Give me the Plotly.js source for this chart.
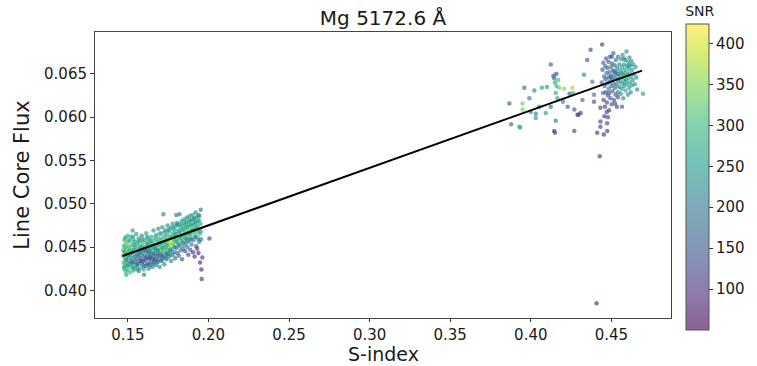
<!DOCTYPE html>
<html>
<head>
<meta charset="utf-8">
<script src="https://cdn.plot.ly/plotly-3.0.1.min.js"></script>
<style>html,body{margin:0;padding:0;background:#fff;}#chart{width:757px;height:366px;}</style>
</head>
<body>
<div id="chart"></div>
<script>
// Left cluster (low activity): S-index, line core flux, SNR
const leftS = [0.1470,0.1472,0.1474,0.1475,0.1477,0.1478,0.1480,0.1481,0.1483,0.1484,0.1486,0.1488,0.1489,0.1491,0.1493,0.1494,0.1496,0.1498,0.1499,0.1500,
0.1503,0.1505,0.1507,0.1509,0.1511,0.1513,0.1515,0.1517,0.1519,0.1521,0.1523,0.1525,0.1527,0.1529,0.1531,0.1533,0.1535,0.1537,0.1539,0.1541,0.1543,0.1545,0.1547,0.1549,
0.1552,0.1554,0.1556,0.1558,0.1560,0.1562,0.1564,0.1566,0.1568,0.1570,0.1572,0.1574,0.1576,0.1578,0.1580,0.1582,0.1584,0.1586,0.1588,0.1590,0.1592,0.1594,0.1596,0.1598,
0.1600,0.1602,0.1604,0.1606,0.1608,0.1610,0.1612,0.1614,0.1616,0.1618,0.1620,0.1622,0.1624,0.1626,0.1628,0.1630,0.1632,0.1634,0.1636,0.1638,0.1640,0.1642,0.1644,0.1646,0.1648,
0.1651,0.1653,0.1655,0.1657,0.1659,0.1661,0.1663,0.1665,0.1667,0.1669,0.1671,0.1673,0.1675,0.1677,0.1679,0.1681,0.1683,0.1685,0.1687,0.1689,0.1691,0.1693,0.1695,0.1697,
0.1700,0.1702,0.1704,0.1706,0.1708,0.1710,0.1712,0.1714,0.1716,0.1718,0.1720,0.1722,0.1724,0.1726,0.1728,0.1730,0.1732,0.1734,0.1736,0.1738,0.1740,0.1742,0.1744,0.1746,0.1748,
0.1751,0.1753,0.1755,0.1757,0.1759,0.1761,0.1763,0.1765,0.1767,0.1769,0.1771,0.1773,0.1775,0.1777,0.1779,0.1781,0.1783,0.1785,0.1787,0.1789,0.1791,0.1793,0.1795,0.1797,
0.1800,0.1802,0.1804,0.1806,0.1808,0.1810,0.1812,0.1814,0.1816,0.1818,0.1820,0.1822,0.1824,0.1826,0.1828,0.1830,0.1832,0.1834,0.1836,0.1838,0.1840,0.1842,0.1844,0.1846,0.1848,
0.1851,0.1853,0.1855,0.1857,0.1859,0.1861,0.1863,0.1865,0.1867,0.1869,0.1871,0.1873,0.1875,0.1877,0.1879,0.1881,0.1883,0.1885,0.1887,0.1889,0.1891,0.1893,0.1895,0.1897,
0.1900,0.1902,0.1904,0.1906,0.1908,0.1910,0.1912,0.1914,0.1916,0.1918,0.1920,0.1922,0.1924,0.1926,0.1928,0.1930,0.1932,0.1934,0.1936,0.1938,0.1940,0.1942,0.1944,0.1946,0.1948,0.1950,0.1952,0.1954,0.1956,0.1958,0.1962,0.2006,
0.1530,0.1800,0.1490];
const leftFlux = [0.0440,0.0446,0.0432,0.0452,0.0425,0.0458,0.0437,0.0444,0.0429,0.0461,0.0449,0.0422,0.0435,0.0455,0.0442,0.0428,0.0447,0.0433,0.0463,0.0424,
0.0451,0.0438,0.0445,0.0430,0.0457,0.0421,0.0441,0.0449,0.0434,0.0462,0.0427,0.0444,0.0453,0.0437,0.0431,0.0459,0.0423,0.0447,0.0440,0.0456,0.0433,0.0426,0.0450,0.0443,
0.0465,0.0436,0.0428,0.0454,0.0441,0.0446,0.0431,0.0460,0.0422,0.0439,0.0451,0.0434,0.0457,0.0426,0.0444,0.0449,0.0437,0.0463,0.0430,0.0442,0.0455,0.0433,0.0447,0.0424,
0.0418,0.0440,0.0458,0.0435,0.0450,0.0428,0.0445,0.0466,0.0438,0.0453,0.0431,0.0447,0.0442,0.0460,0.0425,0.0436,0.0452,0.0444,0.0429,0.0457,0.0439,0.0448,0.0433,0.0462,0.0443,
0.0427,0.0454,0.0437,0.0446,0.0469,0.0432,0.0450,0.0441,0.0458,0.0435,0.0445,0.0429,0.0464,0.0452,0.0439,0.0447,0.0433,0.0456,0.0443,0.0471,0.0449,0.0436,0.0460,0.0427,
0.0454,0.0441,0.0466,0.0447,0.0434,0.0458,0.0443,0.0473,0.0451,0.0438,0.0488,0.0462,0.0445,0.0430,0.0456,0.0449,0.0469,0.0440,0.0459,0.0452,0.0436,0.0464,0.0447,0.0475,0.0442,
0.0457,0.0450,0.0468,0.0439,0.0461,0.0453,0.0445,0.0472,0.0458,0.0434,0.0463,0.0455,0.0448,0.0477,0.0441,0.0466,0.0452,0.0459,0.0470,0.0444,0.0462,0.0437,0.0474,0.0456,
0.0465,0.0449,0.0478,0.0458,0.0443,0.0469,0.0454,0.0476,0.0440,0.0461,0.0488,0.0467,0.0451,0.0473,0.0446,0.0463,0.0457,0.0480,0.0436,0.0470,0.0459,0.0448,0.0475,0.0464,0.0452,
0.0482,0.0468,0.0445,0.0472,0.0460,0.0477,0.0455,0.0466,0.0484,0.0450,0.0474,0.0462,0.0441,0.0479,0.0469,0.0457,0.0486,0.0465,0.0447,0.0475,0.0461,0.0481,0.0453,0.0470,
0.0487,0.0466,0.0444,0.0476,0.0458,0.0482,0.0469,0.0439,0.0473,0.0462,0.0490,0.0478,0.0451,0.0467,0.0484,0.0448,0.0474,0.0460,0.0480,0.0443,0.0470,0.0456,0.0486,0.0465,0.0432,0.0477,0.0493,0.0459,0.0424,0.0413,0.0438,0.0460,
0.0469,0.0487,0.0418];
const leftSNR = [300,280,260,310,270,290,320,250,300,240,330,280,200,310,290,260,340,230,270,300,
280,190,300,250,270,290,210,320,170,260,280,240,300,180,220,290,260,200,310,250,160,270,230,290,
240,150,260,280,170,300,190,250,230,160,270,140,220,280,180,260,150,200,170,240,300,130,210,250,
190,160,270,140,230,180,150,260,170,290,150,200,140,250,220,160,280,190,170,240,150,300,160,270,210,
200,260,150,290,230,170,250,180,310,140,270,190,240,300,160,280,200,260,170,220,310,150,270,240,
290,180,250,320,160,280,200,230,300,170,210,270,330,190,260,290,240,160,310,280,200,250,300,230,180,
360,290,250,170,310,400,270,230,380,190,300,420,260,240,200,290,330,270,250,180,300,150,260,280,
270,190,240,300,170,280,250,230,160,310,200,270,290,250,180,300,260,230,140,280,310,200,260,290,240,
250,280,120,300,230,260,190,310,240,170,270,290,110,250,300,220,230,280,150,260,300,240,190,270,
260,290,100,250,200,230,280,90,300,240,210,270,130,290,250,100,260,220,280,80,300,160,240,270,90,250,200,180,80,90,100,110,
230,190,260];

// Additional points filling the dense low-activity cloud
const leftExtraS = [0.1493,0.1512,0.1538,0.1569,0.1587,0.1621,0.1643,0.1668,0.1694,0.1717,0.1743,0.1768,0.1794,0.1819,0.1843,0.1868,0.1893,0.1917,0.1941,
0.1526,0.1557,0.1583,0.1611,0.1637,0.1663,0.1689,0.1713,0.1739,0.1764,0.1791,0.1817,0.1842,0.1866,0.1892,0.1921,
0.1479,0.1504,0.1532,0.1561,0.1590,0.1619,0.1647,0.1672,0.1699,0.1727,0.1752,0.1780,0.1807,0.1833,0.1858,0.1884,0.1909,0.1937,
0.1476,0.1501,0.1533,0.1562,0.1599,0.1627,0.1656,0.1684,0.1711,0.1737,0.1762,
0.1482,0.1508,0.1545,0.1575,0.1603,0.1633,0.1658,0.1686,0.1715,0.1745,0.1774,0.1799,0.1825,0.1850,0.1878,0.1903,0.1929,0.1953];
const leftExtraFlux = [0.0438,0.0446,0.0452,0.0447,0.0451,0.0455,0.0451,0.0449,0.0453,0.0455,0.0458,0.0461,0.0465,0.0468,0.0471,0.0473,0.0476,0.0479,0.0481,
0.0432,0.0430,0.0434,0.0437,0.0438,0.0436,0.0440,0.0439,0.0443,0.0446,0.0450,0.0452,0.0455,0.0458,0.0459,0.0462,
0.0450,0.0458,0.0462,0.0456,0.0459,0.0462,0.0457,0.0461,0.0465,0.0467,0.0470,0.0473,0.0476,0.0477,0.0479,0.0481,0.0484,0.0487,
0.0427,0.0429,0.0426,0.0424,0.0428,0.0430,0.0431,0.0432,0.0435,0.0437,0.0441,
0.0442,0.0441,0.0439,0.0443,0.0446,0.0447,0.0442,0.0446,0.0449,0.0453,0.0454,0.0457,0.0461,0.0463,0.0466,0.0470,0.0471,0.0468];
const leftExtraSNR = [280,300,290,260,280,250,270,240,260,280,300,290,270,280,300,290,270,260,280,
200,170,160,180,150,170,190,160,180,200,190,210,200,220,210,230,
310,290,280,300,270,260,290,280,300,270,250,260,240,270,250,260,240,230,
290,270,250,210,200,180,210,220,230,240,250,
320,300,240,220,230,240,200,220,260,300,350,300,280,290,280,270,280,260];

// Right cluster (high activity)
const rightS = [0.3867,0.3878,0.3929,0.3935,0.3949,0.3949,0.3960,0.3991,0.4000,0.4022,0.4031,0.4031,0.4052,0.4069,0.4093,0.4124,0.4124,0.4140,0.4145,0.4150,
0.4155,0.4158,0.4160,0.4165,0.4170,0.4176,0.4155,0.4145,0.4150,0.4207,0.4229,0.4258,0.4262,0.4270,0.4270,0.4290,0.4296,0.4310,0.4320,0.4330,
0.4350,0.4371,0.4382,0.4392,0.4392,0.4443,0.4432,0.4432,0.4432,0.4474,0.4412,0.4453,0.4474,0.4428,0.4408,0.4566,0.4696,0.4240,0.4200,0.4100,
0.4440,0.4445,0.4448,0.4450,0.4452,0.4455,0.4458,0.4460,0.4462,0.4464,0.4466,0.4468,0.4470,0.4472,0.4474,0.4476,0.4478,0.4480,0.4482,0.4484,
0.4486,0.4488,0.4490,0.4492,0.4494,0.4496,0.4498,0.4500,0.4502,0.4504,0.4506,0.4508,0.4510,0.4512,0.4514,0.4516,0.4518,0.4520,0.4522,0.4524,
0.4526,0.4528,0.4530,0.4532,0.4534,0.4536,0.4538,0.4540,0.4542,0.4545,0.4548,0.4550,
0.4553,0.4556,0.4558,0.4560,0.4562,0.4564,0.4566,0.4568,0.4570,0.4572,0.4574,0.4576,0.4578,0.4580,0.4582,0.4584,0.4586,0.4588,0.4590,0.4592,
0.4594,0.4596,0.4598,0.4600,0.4602,0.4604,0.4606,0.4608,0.4610,0.4612,0.4614,0.4616,0.4618,0.4620,0.4622,0.4624,0.4627,0.4630,0.4633,0.4636,
0.4640,0.4645,0.4650,0.4655,0.4660,
0.4497,0.4519,0.4541,0.4563,0.4585,0.4607,0.4541,0.4523,0.4579,0.4503,0.4487,0.4471,0.4457,0.4479];
const rightFlux = [0.0616,0.0592,0.0589,0.0588,0.0616,0.0609,0.0634,0.0622,0.0606,0.0631,0.0604,0.0599,0.0612,0.0634,0.0605,0.0661,0.0612,0.0648,0.0645,0.0640,
0.0628,0.0650,0.0636,0.0622,0.0643,0.0634,0.0596,0.0584,0.0582,0.0633,0.0612,0.0634,0.0628,0.0609,0.0584,0.0603,0.0603,0.0605,0.0620,0.0649,
0.0666,0.0678,0.0641,0.0618,0.0626,0.0684,0.0611,0.0595,0.0589,0.0593,0.0582,0.0580,0.0584,0.0555,0.0385,0.0612,0.0627,0.0627,0.0618,0.0635,
0.0640,0.0655,0.0628,0.0663,0.0620,0.0647,0.0636,0.0612,0.0659,0.0644,0.0629,0.0668,0.0651,0.0617,0.0639,0.0657,0.0625,0.0646,0.0664,0.0633,
0.0608,0.0652,0.0641,0.0670,0.0622,0.0648,0.0658,0.0636,0.0615,0.0662,0.0644,0.0630,0.0654,0.0674,0.0639,0.0620,0.0649,0.0660,0.0634,0.0645,
0.0626,0.0666,0.0652,0.0638,0.0612,0.0657,0.0643,0.0629,0.0670,0.0648,0.0635,0.0661,
0.0641,0.0654,0.0627,0.0667,0.0646,0.0633,0.0658,0.0639,0.0672,0.0650,0.0622,0.0644,0.0661,0.0636,0.0655,0.0648,0.0666,0.0631,0.0652,0.0643,
0.0676,0.0659,0.0638,0.0649,0.0626,0.0664,0.0645,0.0656,0.0634,0.0669,0.0651,0.0640,0.0660,0.0629,0.0647,0.0665,0.0637,0.0655,0.0643,0.0661,
0.0650,0.0638,0.0658,0.0646,0.0632,
0.0646,0.0653,0.0650,0.0651,0.0640,0.0660,0.0623,0.0616,0.0668,0.0670,0.0628,0.0606,0.0601,0.0600];
const rightSNR = [150,170,260,280,330,340,160,180,200,210,190,230,220,250,240,150,170,140,160,260,
270,120,280,260,300,330,180,100,110,340,150,360,300,130,110,100,110,120,170,220,
140,120,200,120,190,110,100,110,100,120,100,90,110,100,90,150,260,140,200,230,
150,140,170,160,120,180,150,110,170,160,140,150,180,120,170,160,130,190,150,170,
100,180,160,140,150,170,190,160,130,170,180,150,170,160,190,140,180,170,160,200,
150,180,170,190,130,200,180,170,190,210,200,220,
230,250,220,240,260,230,270,250,240,260,220,280,250,240,270,260,230,250,280,240,
220,260,270,250,230,260,280,250,240,230,270,260,250,220,270,240,260,250,230,240,
220,230,240,220,230,
170,180,190,250,260,250,140,130,230,160,150,110,100,110];

// Linear fit
const fitS = [0.1467, 0.469];
const fitFlux = [0.04396, 0.06538];

const xTicks = [0.15,0.20,0.25,0.30,0.35,0.40,0.45];
const xTickText = ['0.15','0.20','0.25','0.30','0.35','0.40','0.45'];
const yTicks = [0.040,0.045,0.050,0.055,0.060,0.065];
const yTickText = ['0.040','0.045','0.050','0.055','0.060','0.065'];
const snrTicks = [100,150,200,250,300,350,400];

const a = 0.62;
const viridis = [
  [0.000,`rgba(68,1,84,${a})`],
  [0.111,`rgba(72,40,120,${a})`],
  [0.222,`rgba(62,73,137,${a})`],
  [0.333,`rgba(49,104,142,${a})`],
  [0.444,`rgba(38,130,142,${a})`],
  [0.556,`rgba(31,158,137,${a})`],
  [0.667,`rgba(53,183,121,${a})`],
  [0.778,`rgba(110,206,88,${a})`],
  [0.889,`rgba(181,222,43,${a})`],
  [1.000,`rgba(253,231,37,${a})`]
];

const allS = leftS.concat(leftExtraS, rightS);
const allFlux = leftFlux.concat(leftExtraFlux, rightFlux);
const allSNR = leftSNR.concat(leftExtraSNR, rightSNR);

const font = 'DejaVu Sans, sans-serif';
const txt = '#1a1a1a';

const traces = [
  {
    type: 'scatter', mode: 'markers', x: allS, y: allFlux,
    marker: {
      size: 4.5, color: allSNR, colorscale: viridis, cmin: 50, cmax: 424,
      line: {width: 0},
      showscale: true,
      colorbar: {
        x: 1.0254, xanchor: 'left', xref: 'paper',
        y: 0.53, yanchor: 'middle',
        len: 327, lenmode: 'pixels', thickness: 23, thicknessmode: 'pixels',
        outlinewidth: 1, outlinecolor: '#555',
        ticks: 'outside', ticklen: 4, tickcolor: '#333',
        tickvals: snrTicks, tickfont: {family: font, size: 15, color: txt},
        title: {text: 'SNR', side: 'top', font: {family: font, size: 14, color: txt}},
        xpad: 0, ypad: 0
      }
    },
    showlegend: false, hoverinfo: 'none'
  },
  {
    type: 'scatter', mode: 'lines', x: fitS, y: fitFlux,
    line: {color: '#000', width: 2}, showlegend: false, hoverinfo: 'none'
  }
];

const layout = {
  width: 757, height: 366,
  margin: {l: 95, r: 83, t: 32, b: 48},
  paper_bgcolor: '#fff', plot_bgcolor: '#fff',
  font: {family: font, color: txt},
  title: {text: 'Mg 5172.6 Å', font: {family: font, size: 20, color: txt},
          x: 0.5, xref: 'paper', y: 0.95, yref: 'container', yanchor: 'middle'},
  xaxis: {
    range: [0.1296, 0.487], tickvals: xTicks, ticktext: xTickText,
    ticks: 'outside', ticklen: 3, tickcolor: '#333',
    tickfont: {family: font, size: 15, color: txt},
    showline: true, mirror: true, linecolor: '#444', linewidth: 1,
    showgrid: false, zeroline: false
  },
  yaxis: {
    range: [0.0368, 0.06985], tickvals: yTicks, ticktext: yTickText,
    ticks: 'outside', ticklen: 4, tickcolor: '#333',
    tickfont: {family: font, size: 15, color: txt},
    showline: true, mirror: true, linecolor: '#444', linewidth: 1,
    showgrid: false, zeroline: false,
    title: {text: 'Line Core Flux', font: {family: font, size: 21, color: txt}, standoff: 8}
  },
  annotations: [
    {text: 'S-index', xref: 'paper', yref: 'paper', x: 0.5, y: -0.1661,
     xanchor: 'center', yanchor: 'bottom', showarrow: false, borderpad: 0,
     font: {family: font, size: 19, color: txt}}
  ]
};

Plotly.newPlot('chart', traces, layout, {displayModeBar: false, staticPlot: true});
</script>
</body>
</html>
